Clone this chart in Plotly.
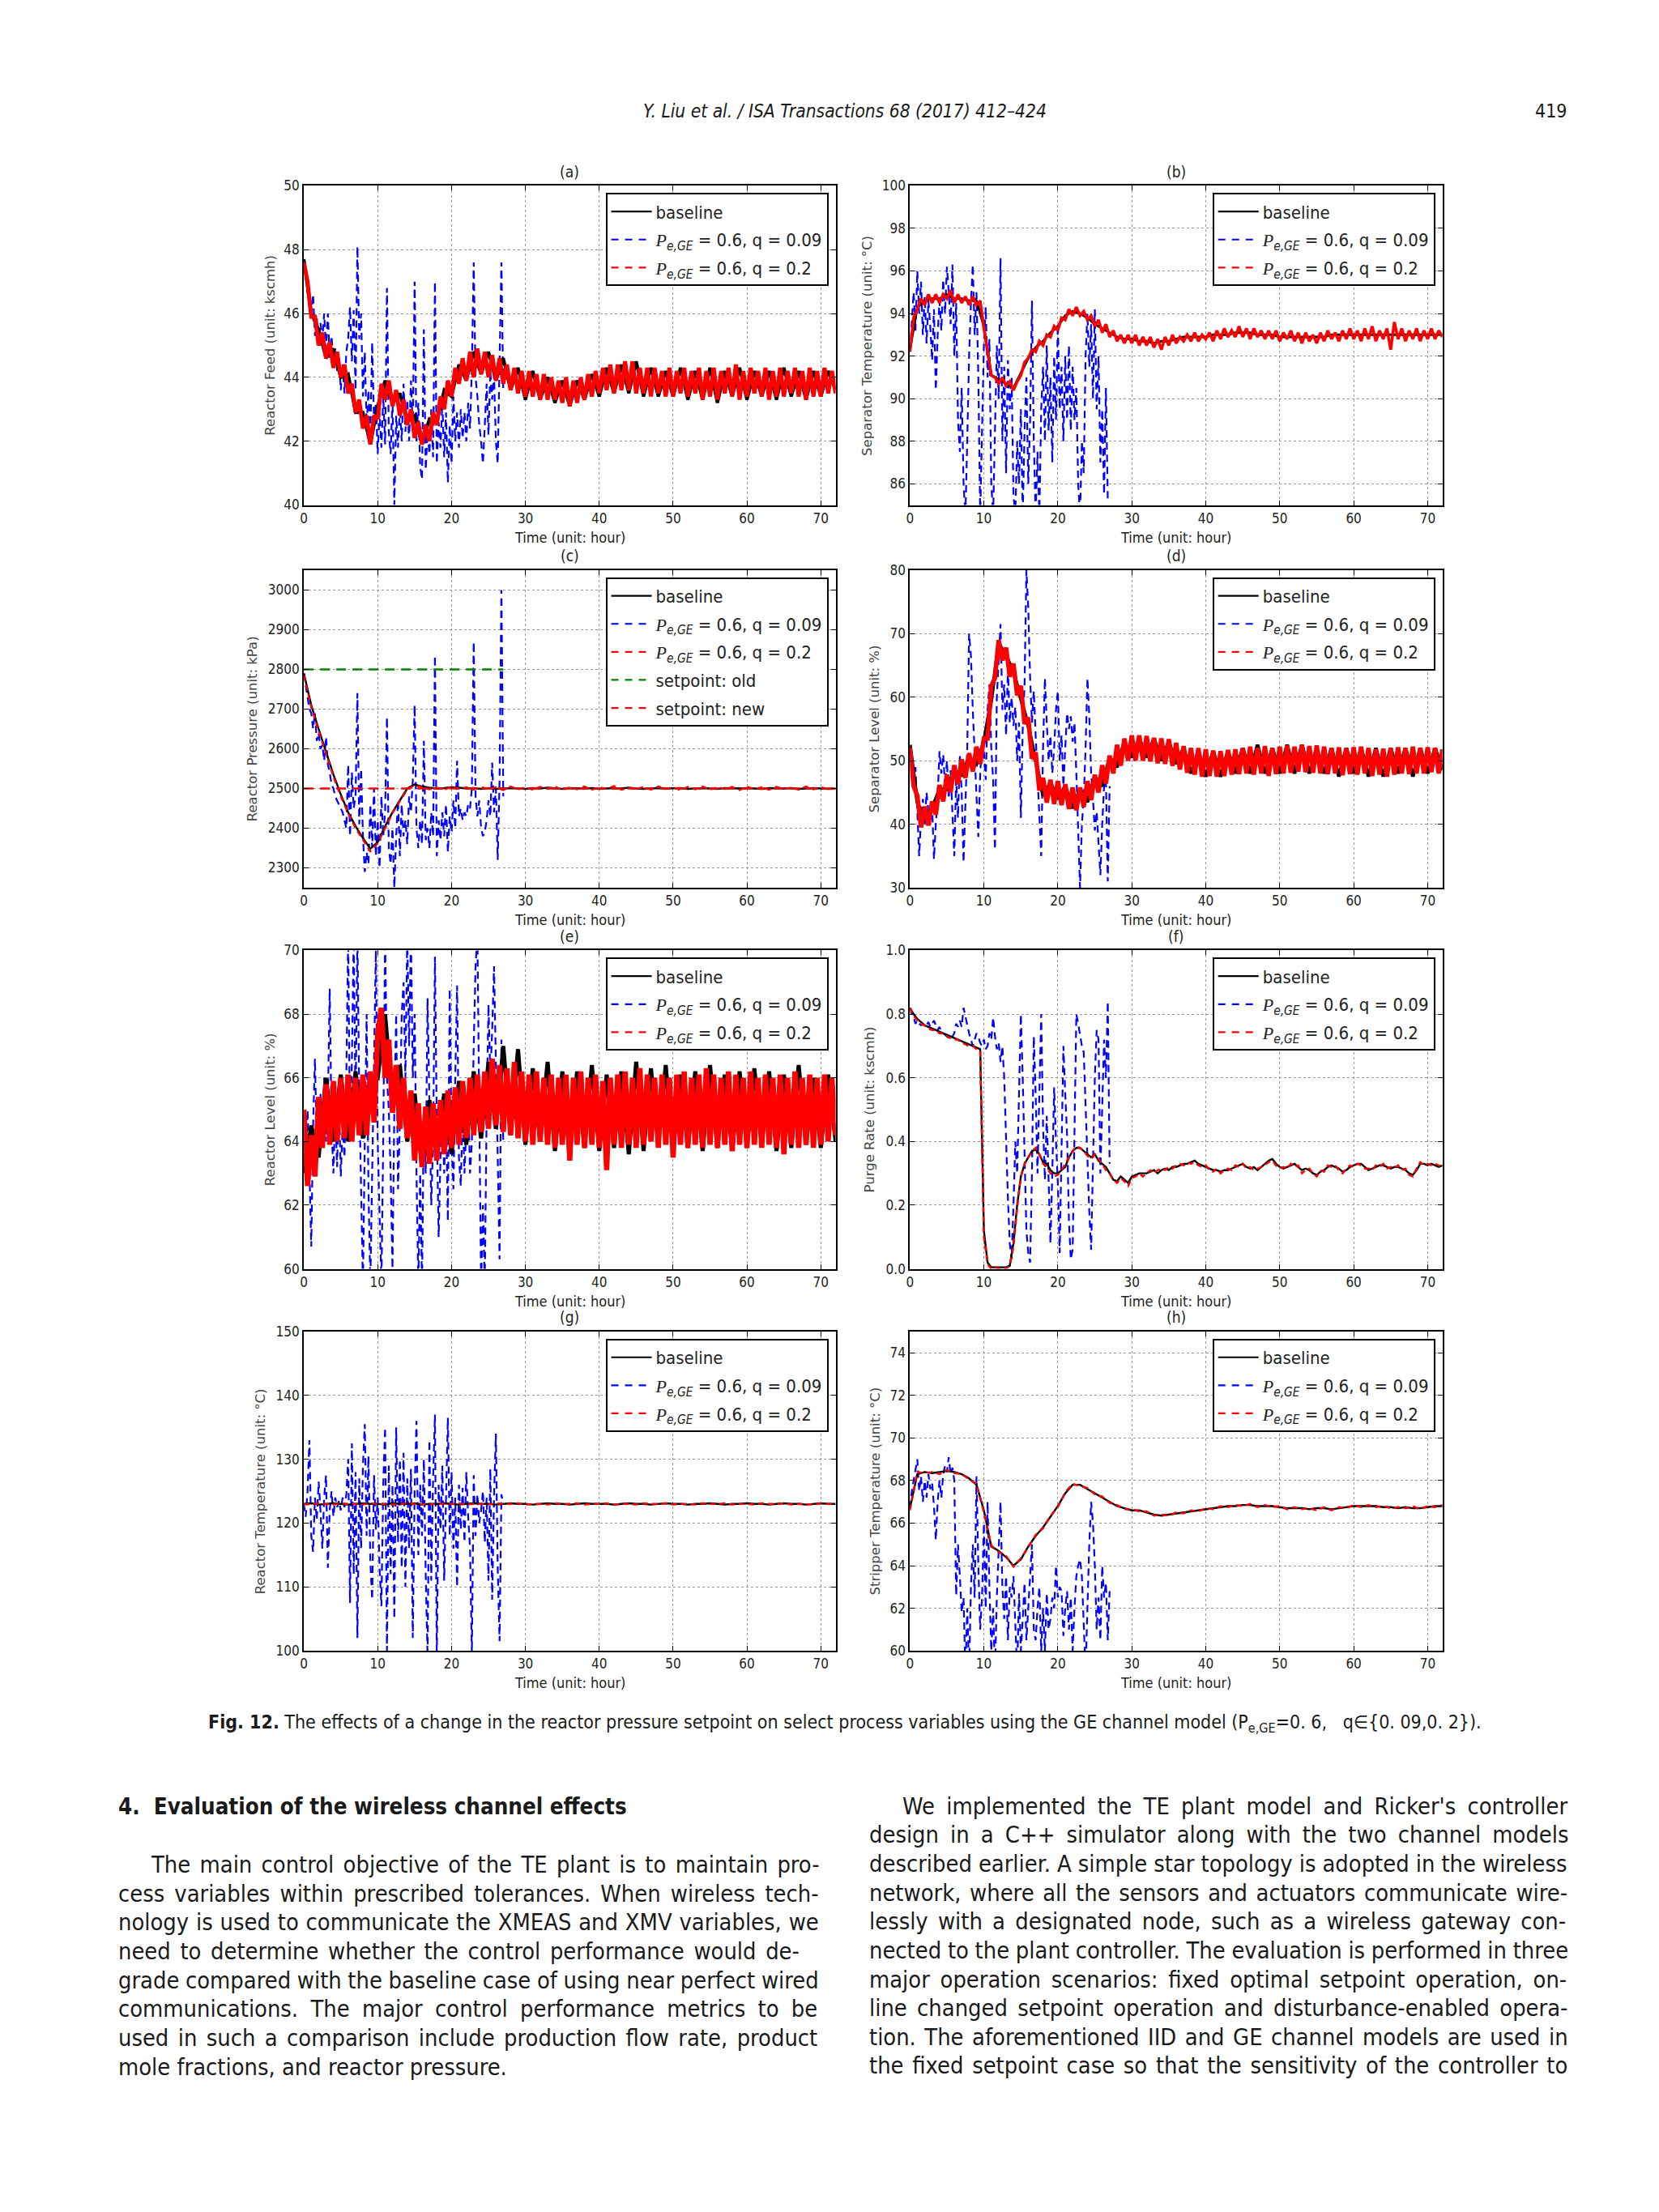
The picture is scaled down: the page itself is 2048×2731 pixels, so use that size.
import plotly.graph_objects as go

# ---------------- data ----------------
# sampling steps of the typed series (hours)
STEP_BLUE = 0.25   # blue (GE channel, q=0.09) series, 0..27 h
STEP_RED = 0.5     # red noisy series, 0..72 h
STEP_BASE = 1.0    # baseline series in noisy panels, 0..72 h

# (a) Reactor Feed
a_base = [47.7,46.0,45.5,44.6,44.9,44.0,44.1,42.9,42.9,41.9,43.1,43.9,43.2,43.5,42.6,42.8,41.9,42.7,42.6,43.6,43.4,44.4,43.9,44.8,44.1,44.8,43.9,44.6,43.6,44.3,43.3,44.2,43.3,44.0,43.2,43.9,43.1,43.9,43.3,44.1,43.4,44.3,43.5,44.4,43.5,44.5,43.4,44.3,43.4,44.2,43.4,44.3,43.3,44.2,43.3,44.3,43.2,44.2,43.4,44.3,43.3,44.2,43.4,44.2,43.3,44.3,43.4,44.2,43.3,44.2,43.4,44.2,43.6]
a_red = [47.6,47.0,45.9,45.9,45.0,45.4,44.6,45.1,44.3,44.8,44.0,44.4,43.5,43.8,42.9,43.3,42.4,42.8,41.9,42.8,42.7,43.8,43.3,43.9,43.1,43.6,42.8,43.3,42.5,43.0,42.1,42.6,41.9,42.5,42.0,42.9,42.5,43.4,43.0,43.9,43.4,44.3,43.8,44.6,43.9,44.8,44.0,44.9,44.1,44.8,44.0,44.7,43.9,44.6,43.8,44.4,43.6,44.3,43.5,44.2,43.4,44.2,43.4,44.1,43.3,44.1,43.3,44.0,43.3,43.9,43.2,44.0,43.1,43.9,43.2,44.0,43.3,44.1,43.4,44.2,43.5,44.3,43.6,44.4,43.5,44.4,43.6,44.5,43.6,44.5,43.5,44.3,43.5,44.3,43.4,44.3,43.5,44.2,43.4,44.3,43.4,44.2,43.5,44.3,43.4,44.2,43.5,44.3,43.3,44.2,43.4,44.3,43.3,44.2,43.5,44.3,43.4,44.4,43.3,44.2,43.4,44.3,43.5,44.2,43.4,44.3,43.3,44.2,43.4,44.3,43.4,44.2,43.5,44.3,43.4,44.2,43.3,44.3,43.4,44.2,43.4,44.3,43.5,44.2,43.5]
a_blue = [47.6,47.1,46.6,46.2,46.0,46.6,45.3,45.9,45.0,45.7,45.2,46.0,44.9,46.0,44.6,45.3,44.4,44.9,44.2,44.6,43.6,44.4,43.5,44.8,45.2,46.2,44.5,46.1,43.6,48.1,45.2,46.0,43.4,44.8,42.5,43.6,42.1,45.1,42.6,43.2,41.6,42.9,41.8,43.4,41.9,46.8,42.3,41.6,43.3,40.0,42.8,41.8,43.1,42.0,43.8,42.3,43.3,42.0,43.9,42.4,47.0,42.0,43.2,41.2,40.8,45.5,41.1,42.3,41.6,43.0,41.5,47.0,41.3,42.6,41.8,43.2,41.5,42.9,40.7,42.5,41.3,43.4,42.0,42.9,41.8,43.0,42.1,42.9,42.0,43.2,42.4,44.3,47.6,44.0,43.4,42.5,42.0,41.3,42.5,43.8,42.2,44.2,43.3,44.1,42.0,41.3,44.5,47.6,43.6]

# (b) Separator Temperature
b_base = [92.3,94.3,94.6,94.7,94.7,94.9,94.7,94.7,94.6,94.6,93.4,91.1,90.9,90.7,90.5,91.2,91.9,92.4,92.7,93.1,93.4,93.9,94.1,94.0,93.8,93.5,93.3,93.1,92.9,92.8,92.8,92.7,92.7,92.6,92.7,92.7,92.8,92.9,92.9,92.9,92.9,93.0,93.0,93.0,93.1,93.1,93.1,93.0,93.0,93.0,92.9,92.9,92.9,92.9,92.9,92.9,92.9,93.0,93.0,93.0,93.0,93.0,93.0,93.0,93.0,93.0,93.0,93.0,93.0,93.0,93.0,93.0,93.0]
b_red = [92.2,93.8,94.2,94.7,94.4,94.9,94.5,94.9,94.5,94.9,94.7,95.1,94.5,94.9,94.5,94.8,94.4,94.8,94.4,94.6,93.3,92.1,91.1,91.0,90.7,91.0,90.6,90.8,90.4,90.8,91.1,91.7,91.9,92.3,92.2,92.7,92.5,93.0,92.9,93.4,93.2,93.8,93.7,94.2,93.9,94.3,93.9,94.1,93.7,93.9,93.4,93.7,93.1,93.5,92.9,93.2,92.7,93.0,92.6,93.0,92.6,93.0,92.5,92.9,92.5,92.9,92.4,92.8,92.3,92.9,92.5,93.0,92.6,92.9,92.7,93.0,92.7,93.1,92.7,93.0,92.8,93.1,92.7,93.2,92.8,93.3,92.9,93.2,92.9,93.4,92.9,93.3,92.8,93.3,92.9,93.2,92.8,93.2,92.8,93.2,92.7,93.1,92.8,93.2,92.7,93.1,92.6,93.1,92.7,93.0,92.6,93.1,92.7,93.2,92.8,93.1,92.7,93.2,92.8,93.3,92.8,93.2,92.7,93.3,92.8,93.4,92.7,93.2,92.8,93.3,92.3,93.6,92.8,93.3,92.7,93.2,92.8,93.3,92.7,93.2,92.8,93.3,92.8,93.2,92.9]
b_blue = [92.2,93.5,95.0,93.2,96.0,94.0,95.5,93.0,94.8,92.6,94.6,93.4,91.8,94.2,90.4,93.0,94.6,93.2,95.6,94.0,96.2,95.0,93.5,96.3,92.0,94.5,89.0,87.5,90.5,86.0,84.5,88.0,92.0,94.5,96.3,93.0,95.0,91.0,84.5,88.5,92.5,94.3,91.0,92.8,86.0,84.5,89.0,92.5,90.0,96.6,88.0,91.5,86.5,91.8,89.5,91.0,85.5,84.5,88.0,86.0,89.5,84.5,88.5,91.0,86.0,89.0,94.6,88.0,84.5,87.5,84.5,89.5,91.5,88.0,92.5,88.5,91.0,87.0,92.0,89.0,93.5,89.5,91.5,88.0,92.0,89.0,92.5,88.5,91.5,89.0,90.5,86.0,84.5,88.0,86.5,92.0,94.0,91.5,93.5,90.0,94.2,89.5,92.0,87.0,89.5,85.5,90.5,85.3,85.2]

# (c) Reactor Pressure (hourly baseline / red)
c_base = [2790,2710,2650,2590,2535,2485,2440,2405,2375,2348,2365,2405,2440,2470,2500,2510,2505,2502,2500,2501,2503,2502,2500,2501,2499,2501,2499,2500,2501,2500,2499,2501,2500,2502,2500,2499,2501,2500,2500,2501,2499,2500,2501,2500,2502,2500,2499,2500,2501,2500,2500,2501,2499,2500,2501,2500,2499,2501,2500,2500,2501,2500,2499,2501,2500,2500,2501,2499,2500,2501,2500,2499,2500]
c_red = [2785,2705,2645,2585,2530,2480,2438,2400,2370,2342,2362,2400,2438,2468,2498,2508,2503,2498,2502,2497,2505,2499,2503,2497,2504,2498,2503,2496,2505,2498,2503,2497,2504,2499,2505,2496,2503,2498,2505,2497,2503,2499,2506,2497,2502,2498,2504,2497,2505,2499,2503,2496,2504,2498,2505,2497,2503,2499,2504,2496,2505,2498,2503,2497,2504,2499,2502,2497,2505,2498,2503,2498,2500]
c_blue = [2790,2760,2730,2700,2690,2650,2690,2620,2640,2600,2610,2570,2630,2560,2540,2510,2500,2480,2470,2460,2450,2440,2420,2400,2560,2380,2540,2450,2480,2740,2410,2550,2380,2290,2340,2310,2460,2350,2500,2330,2420,2300,2480,2380,2440,2680,2350,2310,2400,2250,2380,2470,2330,2460,2380,2420,2360,2480,2440,2520,2710,2400,2350,2420,2360,2620,2370,2400,2350,2440,2380,2835,2330,2420,2370,2440,2380,2460,2340,2430,2390,2470,2400,2570,2430,2450,2420,2440,2430,2460,2450,2500,2870,2480,2430,2470,2400,2380,2390,2420,2470,2430,2565,2440,2500,2320,2520,3000,2480]
c_setpoint_old_t = [0, 27]
c_setpoint_old = [2800, 2800]
c_setpoint_new_t = [0, 72]
c_setpoint_new = [2500, 2500]

# (d) Separator Level
d_base = [52.5,43.5,40.5,42.5,45.5,45.5,48.5,47.8,50.5,49.5,53.0,59.5,68.5,66.5,64.0,59.5,55.5,50.0,44.5,46.5,44.0,46.0,42.5,45.5,43.5,47.5,46.0,50.5,49.0,53.0,50.5,53.5,50.5,53.5,50.0,53.0,49.5,52.0,48.0,51.5,47.5,51.5,47.5,51.5,48.0,52.0,48.0,52.5,48.0,52.0,48.0,52.5,48.0,52.5,48.0,52.0,48.0,52.0,47.5,52.0,48.0,52.0,47.5,52.0,47.5,52.0,48.0,52.0,47.5,52.0,48.0,52.0,48.5]
d_red = [52.0,46.0,44.5,39.5,42.8,39.8,43.6,41.5,46.2,43.6,47.8,45.0,49.3,46.3,50.2,47.3,51.2,48.3,52.2,49.5,53.5,53.5,61.8,63.0,69.0,65.8,67.8,63.2,65.3,60.3,61.8,55.8,56.8,50.3,51.3,45.3,47.3,43.4,47.0,43.2,46.8,43.0,46.3,42.4,45.8,42.2,45.8,42.7,46.8,43.8,47.8,45.0,49.3,46.4,50.8,48.0,52.5,49.2,53.5,50.0,54.0,50.0,54.0,50.0,53.9,49.9,53.6,49.6,53.5,49.5,53.4,49.2,52.8,48.6,52.3,48.1,52.0,47.8,52.0,47.5,51.8,47.6,51.6,47.5,51.5,47.6,51.7,47.8,51.8,47.9,52.0,48.0,52.2,47.8,52.0,48.0,52.3,47.6,52.0,47.9,52.2,48.0,52.4,48.1,52.2,48.3,52.5,48.2,52.3,48.1,52.4,48.0,52.2,47.9,52.0,48.0,52.1,47.7,52.0,47.9,52.1,47.8,52.2,48.0,52.0,47.6,51.8,47.8,51.9,47.5,52.0,47.8,52.1,48.0,52.0,47.9,52.2,48.0,52.0,48.0,52.1,48.2,52.0,48.0,51.8]
d_blue = [52.0,48.0,46.5,49.0,42.0,35.0,41.0,44.0,40.0,45.0,42.0,40.0,43.0,34.5,40.0,44.5,51.5,48.0,51.0,46.0,50.0,44.0,48.5,42.0,35.0,47.0,41.0,51.0,45.0,34.0,43.0,52.0,70.0,66.5,58.0,50.0,44.5,38.0,48.0,53.0,51.5,47.0,58.0,62.0,52.0,47.0,36.0,60.0,65.0,71.5,58.0,62.0,54.0,64.5,56.0,60.0,55.5,58.5,50.0,56.0,41.0,55.0,62.0,80.0,74.0,63.0,56.0,61.0,54.0,48.0,43.0,35.0,52.0,63.0,56.0,50.0,54.0,48.0,52.0,58.0,61.0,50.0,54.0,46.0,52.0,57.5,55.0,57.0,53.0,56.0,48.0,38.0,30.0,40.0,44.0,52.0,63.0,57.0,48.0,44.0,39.0,42.0,37.0,32.0,40.0,46.0,47.0,31.0,46.0]

# (e) Reactor Level
e_base = [63.0,64.5,63.5,66.0,64.0,66.1,64.0,66.2,64.1,66.1,66.0,68.0,65.2,66.4,64.0,65.5,63.2,65.3,63.5,65.5,63.6,65.9,63.9,66.2,64.1,66.5,64.4,67.0,64.2,66.9,63.9,66.3,64.0,66.5,63.7,66.2,63.5,66.2,63.8,66.4,63.7,66.1,63.8,66.2,63.6,66.5,63.7,66.3,63.9,66.4,63.7,66.1,63.8,66.2,63.7,66.4,63.8,66.1,63.7,66.2,63.8,66.3,63.9,66.2,63.7,66.1,63.8,66.4,63.9,66.0,63.8,66.1,64.0]
e_red = [65.0,62.6,64.2,62.9,65.4,63.8,65.8,63.9,65.9,64.0,66.0,64.1,66.1,64.0,66.0,64.2,66.1,64.2,66.2,64.6,67.4,68.2,66.0,67.2,64.9,66.4,64.4,66.0,64.1,65.6,63.4,65.2,63.2,65.1,63.3,65.2,63.4,65.3,63.6,65.6,63.8,65.7,63.9,65.9,64.1,66.0,64.2,66.1,64.3,66.2,64.4,66.6,64.5,66.4,64.3,66.3,64.2,66.5,64.1,66.2,64.0,66.1,63.9,66.2,64.0,66.0,63.9,66.1,63.8,66.0,63.9,66.1,63.4,66.0,63.9,66.2,63.8,66.0,63.9,66.1,63.8,65.9,63.1,66.0,63.9,66.1,63.8,66.2,63.9,66.0,63.8,66.3,63.9,66.1,64.0,66.0,63.8,66.1,63.9,66.0,63.5,66.1,63.9,66.2,63.8,66.0,63.9,66.1,63.8,66.3,63.9,66.1,63.8,66.0,63.9,66.2,63.7,66.1,63.9,66.0,63.8,66.2,63.9,66.0,63.8,66.1,63.9,66.0,63.8,66.1,63.6,66.0,63.9,66.2,63.8,66.0,63.9,66.1,63.8,66.0,63.9,66.1,64.0,66.0,64.2]
e_blue = [64.0,63.0,65.0,63.2,60.7,64.5,66.6,64.0,63.5,65.5,64.0,66.0,64.0,65.2,68.8,64.5,63.0,65.0,63.2,65.5,62.9,64.5,63.5,66.0,70.5,64.0,66.5,70.5,65.0,70.5,65.5,62.0,59.5,64.0,68.0,62.5,59.5,63.0,66.5,70.0,64.0,62.0,59.5,64.0,70.5,66.0,65.0,63.0,60.0,65.0,68.0,62.5,64.5,68.0,69.0,66.0,70.5,67.0,70.5,66.0,68.0,63.0,59.5,63.0,59.5,65.0,63.0,68.5,65.0,62.0,64.0,69.8,64.5,61.0,63.5,65.0,63.0,65.0,61.5,68.8,64.0,62.5,66.0,68.9,63.5,62.6,65.0,63.0,64.5,65.5,63.0,64.0,67.0,69.5,70.5,64.0,59.5,62.0,59.5,65.0,68.3,66.0,67.5,69.5,66.0,63.5,60.3,67.2,64.0]

# (f) Purge Rate (baseline and red sampled every 0.5 h)
f_base = [0.82,0.80,0.785,0.775,0.765,0.76,0.755,0.75,0.745,0.74,0.735,0.73,0.725,0.72,0.715,0.71,0.705,0.70,0.695,0.69,0.12,0.02,0.005,0.005,0.005,0.005,0.005,0.01,0.08,0.20,0.29,0.33,0.35,0.37,0.375,0.36,0.335,0.33,0.31,0.30,0.30,0.31,0.32,0.35,0.37,0.38,0.38,0.37,0.36,0.35,0.36,0.34,0.33,0.32,0.30,0.28,0.275,0.29,0.28,0.27,0.29,0.295,0.30,0.30,0.30,0.305,0.31,0.30,0.31,0.315,0.31,0.32,0.32,0.325,0.33,0.33,0.335,0.34,0.33,0.325,0.32,0.315,0.31,0.31,0.305,0.31,0.31,0.315,0.32,0.325,0.33,0.32,0.315,0.32,0.31,0.32,0.33,0.34,0.345,0.33,0.32,0.315,0.32,0.325,0.33,0.32,0.31,0.315,0.31,0.30,0.295,0.305,0.31,0.32,0.325,0.32,0.315,0.305,0.31,0.32,0.325,0.33,0.33,0.32,0.31,0.315,0.32,0.325,0.325,0.32,0.315,0.32,0.32,0.315,0.31,0.30,0.295,0.31,0.33,0.33,0.325,0.33,0.325,0.32,0.325]
f_red = [0.82,0.795,0.78,0.77,0.765,0.755,0.75,0.75,0.74,0.74,0.73,0.725,0.72,0.72,0.71,0.705,0.70,0.70,0.69,0.685,0.10,0.015,0.0,0.005,0.0,0.005,0.0,0.01,0.07,0.19,0.29,0.33,0.35,0.37,0.38,0.36,0.33,0.32,0.30,0.29,0.295,0.31,0.33,0.35,0.37,0.385,0.38,0.37,0.355,0.345,0.36,0.345,0.33,0.31,0.30,0.28,0.27,0.285,0.275,0.26,0.285,0.29,0.30,0.29,0.30,0.31,0.30,0.31,0.315,0.31,0.32,0.315,0.325,0.33,0.325,0.335,0.33,0.335,0.325,0.32,0.325,0.31,0.305,0.315,0.30,0.31,0.315,0.31,0.325,0.32,0.33,0.315,0.32,0.31,0.315,0.32,0.325,0.335,0.34,0.325,0.315,0.32,0.315,0.33,0.32,0.325,0.30,0.31,0.315,0.30,0.29,0.31,0.305,0.325,0.32,0.325,0.31,0.30,0.315,0.325,0.32,0.33,0.325,0.315,0.315,0.31,0.325,0.32,0.33,0.315,0.32,0.315,0.325,0.31,0.315,0.295,0.29,0.315,0.335,0.325,0.33,0.325,0.33,0.325,0.32]
f_blue = [0.82,0.80,0.79,0.77,0.78,0.77,0.765,0.77,0.76,0.765,0.775,0.76,0.77,0.78,0.765,0.75,0.76,0.745,0.74,0.735,0.73,0.725,0.72,0.73,0.74,0.77,0.76,0.78,0.76,0.82,0.79,0.77,0.74,0.72,0.70,0.72,0.74,0.73,0.71,0.70,0.72,0.69,0.70,0.74,0.72,0.79,0.73,0.69,0.71,0.65,0.70,0.60,0.40,0.22,0.08,0.03,0.20,0.40,0.30,0.55,0.80,0.60,0.35,0.12,0.05,0.02,0.30,0.73,0.55,0.30,0.55,0.80,0.45,0.28,0.48,0.25,0.08,0.30,0.57,0.40,0.27,0.05,0.35,0.70,0.55,0.42,0.15,0.03,0.06,0.45,0.80,0.77,0.73,0.70,0.68,0.50,0.35,0.18,0.06,0.30,0.60,0.75,0.72,0.30,0.50,0.72,0.60,0.84,0.33]

# (g) Reactor Temperature (hourly baseline / red)
g_base = [123.0,123.1,122.9,123.0,123.1,123.0,122.9,123.0,123.1,123.0,123.0,122.9,123.1,123.0,123.0,123.1,122.9,123.0,123.0,123.1,123.0,122.9,123.0,123.1,123.0,123.0,122.9,123.0,123.1,123.0,123.0,122.9,123.0,123.1,123.0,123.0,122.9,123.0,123.1,123.0,123.0,123.0,122.9,123.0,123.1,123.0,123.0,122.9,123.0,123.1,123.0,123.0,122.9,123.0,123.0,123.1,123.0,122.9,123.0,123.0,123.1,123.0,123.0,122.9,123.0,123.1,123.0,123.0,122.9,123.0,123.1,123.0,123.0]
g_red = [123.0,122.9,123.1,123.0,122.9,123.1,123.0,123.0,122.9,123.1,123.0,123.0,122.9,123.0,123.1,123.0,123.0,122.9,123.1,123.0,123.0,123.1,122.9,123.0,123.0,122.9,123.1,123.0,123.0,123.1,122.9,123.0,123.0,122.9,123.1,123.0,123.0,123.1,122.9,123.0,123.0,123.1,122.9,123.0,123.0,122.9,123.1,123.0,123.0,123.1,122.9,123.0,123.0,122.9,123.1,123.0,123.0,123.1,122.9,123.0,123.0,122.9,123.1,123.0,123.0,123.1,122.9,123.0,123.0,122.9,123.1,123.0,123.0]
g_blue = [123.0,121.0,125.0,133.0,118.0,115.5,124.0,120.5,126.5,122.0,116.0,124.0,127.5,113.0,122.0,125.0,121.0,124.0,122.5,123.5,122.0,124.0,122.5,124.5,130.0,107.5,132.5,112.0,128.0,102.0,127.0,116.0,129.0,135.5,118.0,130.5,114.0,108.0,127.5,119.0,124.0,113.0,107.0,126.0,135.0,100.0,129.0,112.0,126.0,105.0,135.0,117.0,130.0,113.0,131.0,110.0,127.0,116.0,128.5,102.0,125.0,136.0,115.0,126.0,118.0,130.0,112.0,99.0,133.0,111.0,127.0,137.0,99.0,126.0,119.0,129.0,111.0,124.0,136.5,118.0,128.0,116.0,124.0,110.0,126.0,119.0,125.5,117.0,128.0,121.0,116.0,99.5,127.5,118.0,124.5,120.0,122.0,125.0,117.0,124.0,111.0,128.5,108.0,124.0,134.0,113.0,101.5,124.5,123.0]

# (h) Stripper Temperature (hourly baseline / red)
h_base = [66.7,68.3,68.4,68.35,68.4,68.45,68.4,68.3,68.1,67.8,66.6,64.9,64.7,64.4,64.0,64.3,64.9,65.4,65.8,66.3,66.8,67.4,67.8,67.8,67.6,67.4,67.2,67.0,66.8,66.7,66.6,66.6,66.5,66.4,66.35,66.4,66.45,66.5,66.55,66.6,66.65,66.7,66.75,66.8,66.8,66.85,66.85,66.8,66.8,66.8,66.75,66.7,66.7,66.7,66.65,66.7,66.7,66.65,66.7,66.75,66.8,66.8,66.8,66.8,66.75,66.75,66.7,66.75,66.7,66.7,66.75,66.8,66.8]
h_red = [66.6,68.4,68.35,68.4,68.3,68.5,68.35,68.3,68.05,67.85,66.5,64.95,64.65,64.45,63.95,64.35,64.85,65.45,65.75,66.35,66.75,67.45,67.85,67.75,67.65,67.35,67.25,66.95,66.85,66.65,66.65,66.55,66.55,66.35,66.4,66.35,66.5,66.45,66.6,66.55,66.7,66.65,66.8,66.75,66.85,66.8,66.9,66.75,66.85,66.75,66.8,66.65,66.75,66.65,66.7,66.6,66.75,66.6,66.75,66.7,66.85,66.75,66.85,66.75,66.8,66.7,66.75,66.7,66.8,66.65,66.8,66.75,66.85]
h_blue = [66.7,67.5,68.0,68.5,69.0,67.5,68.2,67.0,68.0,67.2,68.3,67.6,67.9,66.8,65.2,67.0,68.0,67.2,68.3,68.7,68.4,69.1,68.3,68.6,68.0,62.6,65.0,63.5,61.8,62.5,59.0,62.0,59.0,63.0,65.0,62.5,68.2,64.0,61.0,62.5,66.0,62.0,67.0,63.0,60.0,62.0,59.0,62.5,64.5,67.0,63.0,61.5,63.5,60.5,63.0,62.5,63.5,61.0,59.0,62.7,60.0,61.5,63.2,60.5,62.0,63.5,65.0,61.0,60.5,62.0,63.0,60.0,62.0,60.0,62.7,61.0,61.5,62.5,62.0,64.0,62.5,63.0,62.8,60.7,62.0,62.8,61.0,62.5,60.0,62.0,63.5,64.0,64.3,63.5,60.5,59.0,62.0,65.0,67.0,66.0,64.0,61.0,62.5,60.5,64.0,62.5,63.2,60.5,62.8]

panel_letters = ["(a)", "(b)", "(c)", "(d)", "(e)", "(f)", "(g)", "(h)"]
y_titles = ["Reactor Feed (unit: kscmh)", "Separator Temperature (unit: °C)",
            "Reactor Pressure (unit: kPa)", "Separator Level (unit: %)",
            "Reactor Level (unit: %)", "Purge Rate (unit: kscmh)",
            "Reactor Temperature (unit: °C)", "Stripper Temperature (unit: °C)"]
x_ticks = [0, 10, 20, 30, 40, 50, 60, 70]
y_ticks = [[40, 42, 44, 46, 48, 50], [86, 88, 90, 92, 94, 96, 98, 100],
           [2300, 2400, 2500, 2600, 2700, 2800, 2900, 3000], [30, 40, 50, 60, 70, 80],
           [60, 62, 64, 66, 68, 70], [0.0, 0.2, 0.4, 0.6, 0.8, 1.0],
           [100, 110, 120, 130, 140, 150], [60, 62, 64, 66, 68, 70, 72, 74]]
y_ranges = [[40, 50], [85, 100], [2250, 3050], [30, 80], [60, 70], [0, 1], [100, 150], [60, 75]]
x_title = "Time (unit: hour)"
legend_names = ["baseline",
                "<span style='font-family:Liberation Serif'><i>P</i></span><sub><i>e,GE</i></sub> = 0.6, q = 0.09",
                "<span style='font-family:Liberation Serif'><i>P</i></span><sub><i>e,GE</i></sub> = 0.6, q = 0.2"]
setpoint_names = ["setpoint: old", "setpoint: new"]

# ---------------- layout helpers ----------------
W, H = 2048, 2731
OFF = 8  # page body margin compensation
def fx(p):
    return (p - OFF) / W
def fy(p):
    return 1 - (p - OFF) / H

COLS = [(371, 1029), (1121, 1780)]
ROWS = [(221, 618), (699, 1094), (1172, 1568), (1646, 2043)]
YT_X = [329, 1068, 308, 1078, 329, 1071, 317, 1078]

NARROW = "Liberation Sans Narrow, DejaVu Sans Condensed, Arial Narrow, sans-serif"
BLUE, RED, BLACK, GREEN = "#0000ff", "#ff0000", "#000000", "#008000"
BLUE_DASH = "9px,6px"
RED_DASH = "7px,5px"
LEG_DASH = "9px,8px"
RED_W = [5.0, 3.6, 2.4, 5.5, 6.5, 2.4, 2.4, 2.4]
BLK_W = [4.0, 3.0, 2.4, 4.5, 5.0, 2.4, 2.4, 2.4]

fig = go.Figure()
layout = dict(width=W, height=H, margin=dict(l=0, r=0, t=0, b=0),
              paper_bgcolor="white", plot_bgcolor="white", showlegend=True)
annotations = []

def t_axis(n, step):
    return [i * step for i in range(n)]

series = [
    (a_base, STEP_BASE, a_red, STEP_RED, a_blue, False),
    (b_base, STEP_BASE, b_red, STEP_RED, b_blue, False),
    (c_base, STEP_BASE, c_red, STEP_BASE, c_blue, True),
    (d_base, STEP_BASE, d_red, STEP_RED, d_blue, False),
    (e_base, STEP_BASE, e_red, STEP_RED, e_blue, False),
    (f_base, STEP_RED, f_red, STEP_RED, f_blue, True),
    (g_base, STEP_BASE, g_red, STEP_BASE, g_blue, True),
    (h_base, STEP_BASE, h_red, STEP_BASE, h_blue, True),
]

for i in range(8):
    col, row = i % 2, i // 2
    x0, x1 = COLS[col]
    y0, y1 = ROWS[row]
    sfx = "" if i == 0 else str(i + 1)
    xa, ya = "x" + sfx, "y" + sfx
    lg = "legend" + sfx
    common_ax = dict(showline=True, linecolor="black", linewidth=2, mirror="ticks",
                     ticks="inside", ticklen=6, tickwidth=1.2, tickcolor="black",
                     showgrid=True, gridcolor="#9a9a9a", griddash="dot", gridwidth=1.3,
                     zeroline=False, tickfont=dict(family=NARROW, size=17, color="#222"))
    layout["xaxis" + sfx] = dict(common_ax, domain=[fx(x0), fx(x1)], anchor=ya,
                                  range=[0, 72], tickvals=x_ticks)
    layout["yaxis" + sfx] = dict(common_ax, domain=[fy(y1), fy(y0)], anchor=xa,
                                  range=y_ranges[i], tickvals=y_ticks[i],
                                  tickformat=".1f" if i == 5 else "d")
    base, bstep, red, rstep, blue, red_dashed = series[i]

    fig.add_trace(go.Scatter(x=t_axis(len(blue), STEP_BLUE), y=blue, mode="lines",
                             line=dict(color=BLUE, width=2.2, dash=BLUE_DASH),
                             xaxis=xa, yaxis=ya, showlegend=False, hoverinfo="skip"))
    if i == 2:
        fig.add_trace(go.Scatter(x=c_setpoint_old_t, y=c_setpoint_old, mode="lines",
                                 line=dict(color=GREEN, width=2.5, dash="12px,8px"),
                                 xaxis=xa, yaxis=ya, showlegend=False, hoverinfo="skip"))
    fig.add_trace(go.Scatter(x=t_axis(len(base), bstep), y=base, mode="lines",
                             line=dict(color=BLACK, width=BLK_W[i]),
                             xaxis=xa, yaxis=ya, showlegend=False, hoverinfo="skip"))
    if i == 2:
        fig.add_trace(go.Scatter(x=c_setpoint_new_t, y=c_setpoint_new, mode="lines",
                                 line=dict(color=RED, width=2.5, dash="12px,8px"),
                                 xaxis=xa, yaxis=ya, showlegend=False, hoverinfo="skip"))
    fig.add_trace(go.Scatter(x=t_axis(len(red), rstep), y=red, mode="lines",
                             line=dict(color=RED, width=RED_W[i],
                                       dash=RED_DASH if red_dashed else "solid"),
                             xaxis=xa, yaxis=ya, showlegend=False, hoverinfo="skip"))

    # legend entries
    entries = [(legend_names[0], BLACK, "solid"), (legend_names[1], BLUE, LEG_DASH),
               (legend_names[2], RED, LEG_DASH)]
    if i == 2:
        entries += [(setpoint_names[0], GREEN, LEG_DASH), (setpoint_names[1], RED, LEG_DASH)]
    for k, (nm, colr, dsh) in enumerate(entries):
        fig.add_trace(go.Scatter(x=[None], y=[None], mode="lines", name=nm,
                                 line=dict(color=colr, width=2.2, dash=dsh),
                                 xaxis=xa, yaxis=ya, legend=lg,
                                 legendgroup=f"{lg}_{k}", showlegend=True))
    layout[lg] = dict(x=fx(x1 - 9), y=fy(y0 + 9), xanchor="right", yanchor="top",
                      bgcolor="white", bordercolor="black", borderwidth=2,
                      font=dict(family=NARROW, size=22, color="#222"),
                      tracegroupgap=3, itemwidth=50)

    # panel title, axis titles
    annotations.append(dict(text=panel_letters[i], x=fx((x0 + x1) / 2), y=fy(y0 - 18),
                            xref="paper", yref="paper", showarrow=False,
                            font=dict(family=NARROW, size=19, color="#222"),
                            xanchor="center", yanchor="middle"))
    annotations.append(dict(text=x_title, x=fx((x0 + x1) / 2), y=fy(y1 + 40),
                            xref="paper", yref="paper", showarrow=False,
                            font=dict(family=NARROW, size=18, color="#222"),
                            xanchor="center", yanchor="middle"))
    annotations.append(dict(text=y_titles[i], x=fx(YT_X[i]), y=fy((y0 + y1) / 2),
                            xref="paper", yref="paper", showarrow=False, textangle=-90,
                            font=dict(family="DejaVu Sans, sans-serif", size=16.5, color="#444"),
                            xanchor="center", yanchor="middle"))

# ---------------- page text ----------------
header = "<i>Y. Liu et al. / ISA Transactions 68 (2017) 412–424</i>"
page_no = "419"
caption = ("<b>Fig. 12.</b> The effects of a change in the reactor pressure setpoint on select process "
           "variables using the GE channel model (P<sub>e,GE</sub>=0. 6,   q∈{0. 09,0. 2}).")
heading = "<b>4.  Evaluation of the wireless channel effects</b>"
left_lines = [
    "The main control objective of the TE plant is to maintain pro-",
    "cess variables within prescribed tolerances. When wireless tech-",
    "nology is used to communicate the XMEAS and XMV variables, we",
    "need to determine whether the control performance would de-",
    "grade compared with the baseline case of using near perfect wired",
    "communications. The major control performance metrics to be",
    "used in such a comparison include production flow rate, product",
    "mole fractions, and reactor pressure.",
]
right_lines = [
    "We implemented the TE plant model and Ricker's controller",
    "design in a C++ simulator along with the two channel models",
    "described earlier. A simple star topology is adopted in the wireless",
    "network, where all the sensors and actuators communicate wire-",
    "lessly with a designated node, such as a wireless gateway con-",
    "nected to the plant controller. The evaluation is performed in three",
    "major operation scenarios: fixed optimal setpoint operation, on-",
    "line changed setpoint operation and disturbance-enabled opera-",
    "tion. The aforementioned IID and GE channel models are used in",
    "the fixed setpoint case so that the sensitivity of the controller to",
]
# extra word spacing (px) used to justify each line, as in the typeset page
left_ws = [3.1, 3.9, 0.65, 3.4, -0.57, 7.1, 3.2, 0.0]
right_ws = [6.1, 5.9, -0.17, 2.4, 4.0, -0.5, 4.5, 4.1, 2.3, 2.5]

TXT = dict(family=NARROW, color="#1a1a1a")
annotations.append(dict(text=header, x=fx(1041), y=fy(128), xref="paper", yref="paper",
                        showarrow=False, font=dict(TXT, size=22.6), xanchor="center", yanchor="middle"))
annotations.append(dict(text=page_no, x=fx(1937), y=fy(128), xref="paper", yref="paper",
                        showarrow=False, font=dict(TXT, size=23), xanchor="right", yanchor="middle"))
annotations.append(dict(text=caption, x=fx(1041), y=fy(2134), xref="paper", yref="paper",
                        showarrow=False, font=dict(TXT, size=23), xanchor="center", yanchor="middle"))
annotations.append(dict(text=heading, x=fx(139), y=fy(2236), xref="paper", yref="paper",
                        showarrow=False, font=dict(TXT, size=27.5), xanchor="left", yanchor="middle"))
BODY = 28.8
LINE = 35.9
for k, line in enumerate(left_lines):
    txt = f'<span style="word-spacing:{left_ws[k]}px">{line}</span>'
    annotations.append(dict(text=txt, x=fx(179 if k == 0 else 139), y=fy(2309 + LINE * k),
                            xref="paper", yref="paper", showarrow=False,
                            font=dict(TXT, size=BODY), xanchor="left", yanchor="middle"))
for k, line in enumerate(right_lines):
    txt = f'<span style="word-spacing:{right_ws[k]}px">{line}</span>'
    annotations.append(dict(text=txt, x=fx(1110 if k == 0 else 1069), y=fy(2236 + LINE * k),
                            xref="paper", yref="paper", showarrow=False,
                            font=dict(TXT, size=BODY), xanchor="left", yanchor="middle"))

layout["annotations"] = annotations
fig.update_layout(**layout)
fig.write_html("out.html")
